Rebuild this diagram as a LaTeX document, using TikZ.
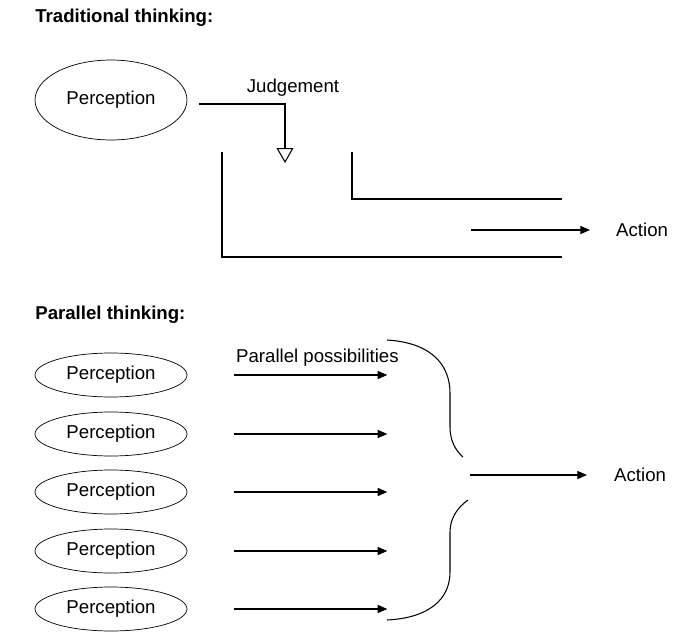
\documentclass[tikz,border=0pt]{standalone}
\usepackage{fontspec}
\setmainfont{Liberation Sans}
\usetikzlibrary{shapes.geometric,arrows.meta}

\tikzset{
    perc/.style={draw, ellipse, inner sep=0pt, minimum width=3.04cm, minimum height=0.88cm},
    title/.style={anchor=west, inner sep=0pt, font=\fontsize{10.6}{12.7}\selectfont\bfseries},
    line/.style={line width=0.6pt},
    arr/.style={line width=0.6pt, -{Triangle[length=5.5pt, width=4.6pt]}}
}

\begin{document}
\begin{tikzpicture}[x=0.02cm, y=-0.02cm, font=\fontsize{10.6}{12.7}\selectfont]
    \useasboundingbox (0,0) rectangle (687,636);

    % Traditional thinking
    \node[title] (tradtitle) at (35,18) {Traditional thinking:};
    \node[perc, minimum height=1.6cm] (perc0) at (111,100) {Perception};
    \node (judge) at (293,88) {Judgement};
    \coordinate (jstart) at (199,104);
    \coordinate (jtip) at (285,163);
    \draw[line, -{Triangle[open, length=8.5pt, width=9.6pt]}] (jstart) -| (jtip);

    % the two channels
    \coordinate (wide) at (222,152);
    \coordinate (narrow) at (352,152);
    \draw[line] (wide) |- (562,257);
    \draw[line] (narrow) |- (562,199);

    \node[anchor=west] (action1) at (610,230) {Action};
    \coordinate (a1start) at (471,230);
    \draw[arr] (a1start) -- (action1.west -| 590,0);

    % Parallel thinking
    \node[title] (partitle) at (35,315) {Parallel thinking:};
    \foreach \i/\y in {1/375,2/434,3/492,4/551,5/609} {
        \node[perc] (perc\i) at (111,\y) {Perception};
        \draw[arr] ([xshift=0.94cm]perc\i.east) -- ++(153,0);
    }
    \node[anchor=west] (poss) at (230,358) {Parallel possibilities};

    % brace
    \draw[line] (387,340) .. controls (435,343) and (450,368) .. (450,393)
        -- (450,427) .. controls (450,440) and (455,450) .. (463,457);
    \draw[line] (468,500) .. controls (458,507) and (450,518) .. (450,532)
        -- (450,572) .. controls (450,600) and (428,618) .. (387,620);

    \node[anchor=west] (action2) at (608,475) {Action};
    \coordinate (a2start) at (470,475);
    \draw[arr] (a2start) -- (action2.west -| 587,0);
\end{tikzpicture}
\end{document}
